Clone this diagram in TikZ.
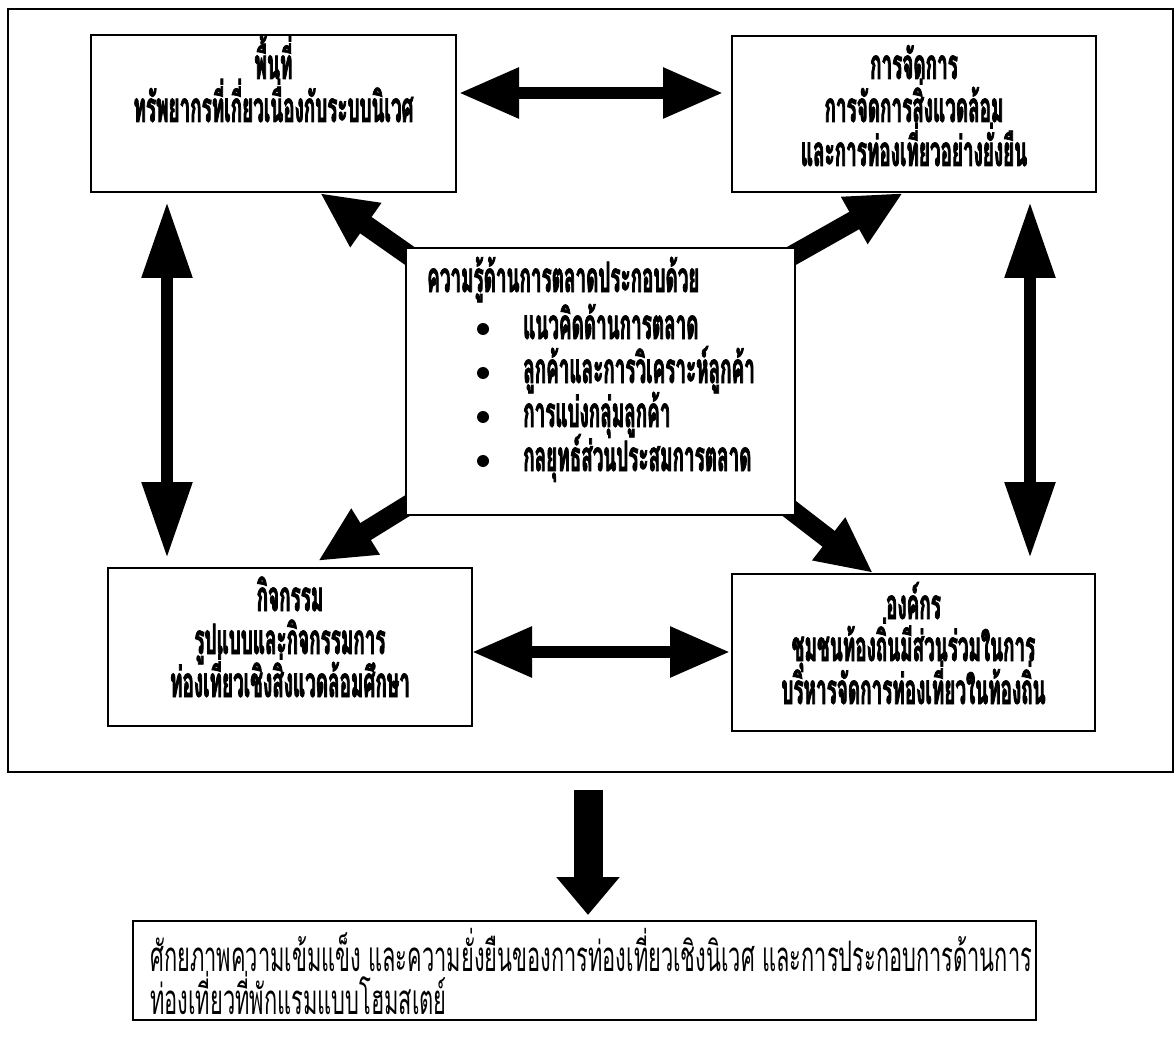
\documentclass[tikz,border=0pt]{standalone}
\usepackage{fontspec}
\newfontfamily\thaifont[Script=Thai,FakeStretch=0.45,BoldFeatures={FakeBold=1.8}]{Loma}
\newfontfamily\thaiplain[Script=Thai,FakeStretch=0.52]{Loma}
\usetikzlibrary{arrows.meta,positioning,backgrounds}

\begin{document}
\begin{tikzpicture}[x=1pt,y=-1pt,
  frame/.style={draw,line width=1.6pt},
  box/.style={draw,line width=1.8pt,fill=white,inner sep=0pt},
  boxtext/.style={font=\thaifont\bfseries\fontsize{42}{43.5}\selectfont,anchor=base,inner sep=0pt},
  listtext/.style={font=\thaifont\bfseries\fontsize{42}{43.5}\selectfont,anchor=base west,inner sep=0pt},
  resulttext/.style={font=\thaiplain\fontsize{42}{45}\selectfont,anchor=base west,inner sep=0pt},
  linkarrow/.style={line width=12pt,{Triangle[length=76pt,width=48pt]}-{Triangle[length=76pt,width=48pt]}},
  sidearrow/.style={line width=12pt,{Triangle[length=60pt,width=48pt]}-{Triangle[length=60pt,width=48pt]}},
  fatarrow/.style={line width=20pt,-{Triangle[length=56pt,width=50pt]}},
  downarrow/.style={line width=29pt,-{Triangle[length=38pt,width=61pt]}}]
\useasboundingbox (0,0) rectangle (1176,1043);
\draw[frame] (8,9) rectangle (1173,772);

% the five boxes
\node[box,minimum width=365,minimum height=157] (area) at (273.5,113.5) {};
\node[box,minimum width=364,minimum height=156] (manage) at (914,114) {};
\node[box,minimum width=389,minimum height=267] (knowledge) at (600.5,381.5) {};
\node[box,minimum width=364,minimum height=158] (activity) at (290,647) {};
\node[box,minimum width=363,minimum height=157] (organ) at (913.5,652.5) {};
\node[box,minimum width=903,minimum height=99] (result) at (584.5,970.5) {};

% box texts, one node per line
\node[boxtext] (areatitle) at (273.5,79) {พื้นที่};
\node[boxtext] (arealine) at (273.5,122) {ทรัพยากรที่เกี่ยวเนื่องกับระบบนิเวศ};
\node[boxtext] (managetitle) at (914,79) {การจัดการ};
\node[boxtext] (manageline1) at (914,122) {การจัดการสิ่งแวดล้อม};
\node[boxtext] (manageline2) at (914,166) {และการท่องเที่ยวอย่างยั่งยืน};
\node[boxtext] (activitytitle) at (290,611) {กิจกรรม};
\node[boxtext] (activityline1) at (290,654) {รูปแบบและกิจกรรมการ};
\node[boxtext] (activityline2) at (290,697) {ท่องเที่ยวเชิงสิ่งแวดล้อมศึกษา};
\node[boxtext] (organtitle) at (913.5,619) {องค์กร};
\node[boxtext] (organline1) at (913.5,661) {ชุมชนท้องถิ่นมีส่วนร่วมในการ};
\node[boxtext] (organline2) at (913.5,704) {บริหารจัดการท่องเที่ยวในท้องถิ่น};

\node[listtext] (knowhead) at (427,292) {ความรู้ด้านการตลาดประกอบด้วย};
\foreach \t [count=\i] in {แนวคิดด้านการตลาด,ลูกค้าและการวิเคราะห์ลูกค้า,การแบ่งกลุ่มลูกค้า,กลยุทธ์ส่วนประสมการตลาด}{
  \fill (483,{285+44*\i}) circle (6pt);
  \node[listtext] (item\i) at (523,{295+44*\i}) {\t};
}

\node[resulttext] (resultline1) at (150,971) {ศักยภาพความเข้มแข็ง และความยั่งยืนของการท่องเที่ยวเชิงนิเวศ และการประกอบการด้านการ};
\node[resulttext] (resultline2) at (150,1014) {ท่องเที่ยวที่พักแรมแบบโฮมสเตย์};

% arrow ends
\coordinate (areaS) at (167,202);
\coordinate (activityN) at (167,558);
\coordinate (manageS) at (1030,202);
\coordinate (organN) at (1030,558);
\coordinate (areaE) at (459,93);
\coordinate (manageW) at (723,93);
\coordinate (activityE) at (472,652);
\coordinate (organW) at (730,652);
\coordinate (toArea) at (320,193);
\coordinate (toManage) at (903,193);
\coordinate (toActivity) at (318,561);
\coordinate (toOrgan) at (873,573);
\coordinate (frameS) at (588,790);
\coordinate (resultN) at (588,915);

\begin{scope}[on background layer]
\draw[fatarrow] ([shift={(12,14)}]knowledge.north west) -- (toArea);
\draw[fatarrow] ([shift={(-10,12)}]knowledge.north east) -- (toManage);
\draw[fatarrow] ([shift={(10,-15)}]knowledge.south west) -- (toActivity);
\draw[fatarrow] ([shift={(-10,-10)}]knowledge.south east) -- (toOrgan);
\end{scope}

\draw[linkarrow] (areaS) -- (activityN);
\draw[linkarrow] (manageS) -- (organN);
\draw[sidearrow] (areaE) -- (manageW);
\draw[sidearrow] (activityE) -- (organW);
\draw[downarrow] (frameS) -- (resultN);
\end{tikzpicture}
\end{document}
